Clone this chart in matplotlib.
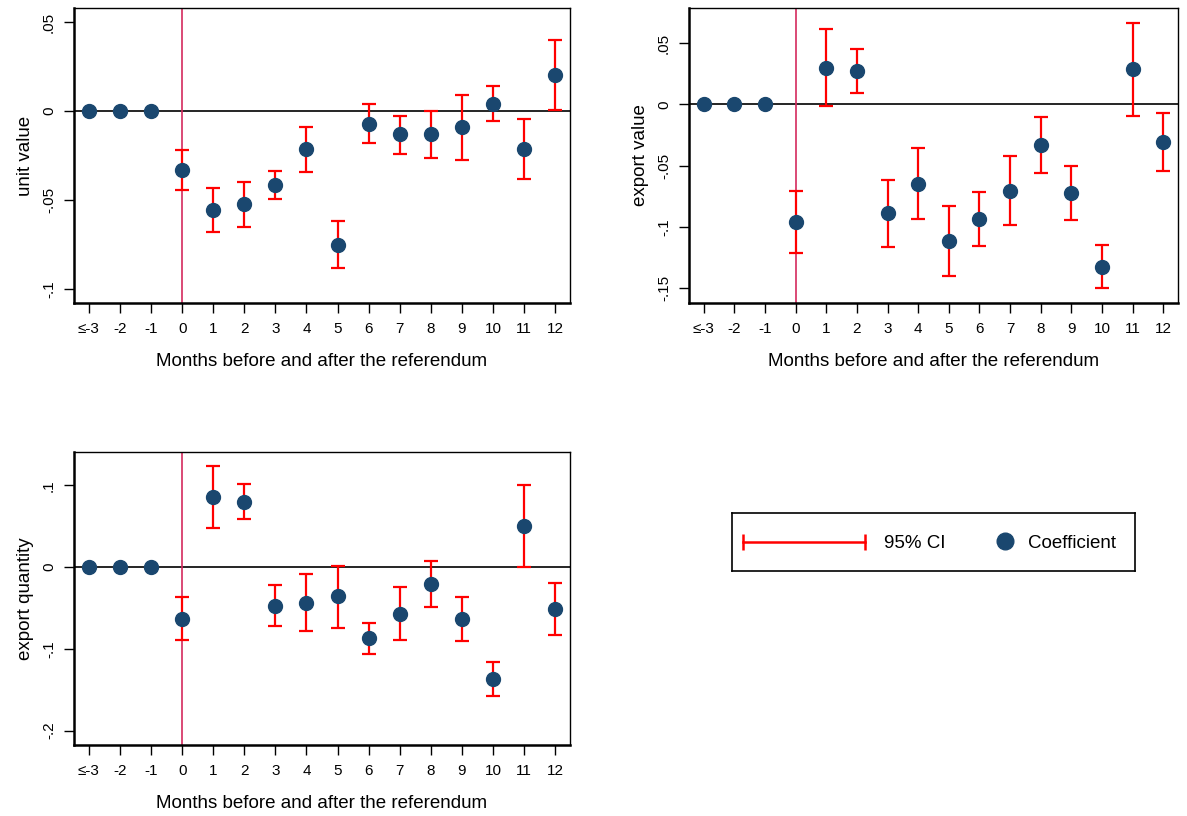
import matplotlib
matplotlib.use("Agg")
import matplotlib.pyplot as plt
import numpy as np

plt.rcParams['font.family'] = ['Liberation Sans', 'DejaVu Sans']

# ---------------- data ----------------
months = ["≤-3", "-2", "-1", "0", "1", "2", "3", "4", "5", "6", "7", "8", "9", "10", "11", "12"]

uv_coef = [0, 0, 0, -0.0333, -0.0558, -0.0526, -0.0417, -0.0216, -0.0752, -0.0073,
           -0.0132, -0.0132, -0.0092, 0.0041, -0.0214, 0.0201]
uv_lo = [np.nan, np.nan, np.nan, -0.0442, -0.0680, -0.0652, -0.0496, -0.0342, -0.0885, -0.0182,
         -0.0240, -0.0263, -0.0276, -0.0056, -0.0382, 0.0008]
uv_hi = [np.nan, np.nan, np.nan, -0.0220, -0.0436, -0.0400, -0.0340, -0.0090, -0.0618, 0.0038,
         -0.0026, 0.0000, 0.0092, 0.0141, -0.0045, 0.0400]

ev_coef = [0, 0, 0, -0.0959, 0.0297, 0.0275, -0.0888, -0.0646, -0.1112, -0.0937,
           -0.0703, -0.0332, -0.0722, -0.1322, 0.0286, -0.0305]
ev_lo = [np.nan, np.nan, np.nan, -0.1210, -0.0014, 0.0095, -0.1163, -0.0935, -0.1398, -0.1155,
         -0.0984, -0.0561, -0.0943, -0.1493, -0.0095, -0.0542]
ev_hi = [np.nan, np.nan, np.nan, -0.0706, 0.0616, 0.0455, -0.0616, -0.0354, -0.0828, -0.0717,
         -0.0420, -0.0101, -0.0499, -0.1147, 0.0668, -0.0068]

eq_coef = [0, 0, 0, -0.0635, 0.0855, 0.0798, -0.0476, -0.0435, -0.0358, -0.0871,
           -0.0574, -0.0204, -0.0639, -0.1368, 0.0497, -0.0513]
eq_lo = [np.nan, np.nan, np.nan, -0.0895, 0.0476, 0.0586, -0.0724, -0.0785, -0.0741, -0.1062,
         -0.0895, -0.0484, -0.0904, -0.1575, -0.0004, -0.0834]
eq_hi = [np.nan, np.nan, np.nan, -0.0366, 0.1237, 0.1013, -0.0224, -0.0085, 0.0016, -0.0680,
         -0.0248, 0.0073, -0.0362, -0.1160, 0.1001, -0.0191]

uv_ticks = [0.05, 0, -0.05, -0.1]
uv_ticklabels = [".05", "0", "-.05", "-.1"]
ev_ticks = [0.05, 0, -0.05, -0.1, -0.15]
ev_ticklabels = [".05", "0", "-.05", "-.1", "-.15"]
eq_ticks = [0.1, 0, -0.1, -0.2]
eq_ticklabels = [".1", "0", "-.1", "-.2"]

xlabel = "Months before and after the referendum"
legend_labels = ["95% CI", "Coefficient"]

NAVY = '#1a476f'
RED = '#ff0000'
REF = '#d42a5e'

W, H = 1187, 816
fig = plt.figure(figsize=(W / 100, H / 100), dpi=100)


def px_axes(l, t, r, b):
    return fig.add_axes([l / W, 1 - b / H, (r - l) / W, (b - t) / H])


def panel(ax, coef, lo, hi, ticks, ticklabels, ylabel, ylim):
    x = np.arange(len(months))
    coef = np.array(coef, float)
    lo = np.array(lo, float)
    hi = np.array(hi, float)
    ax.axhline(0, color='black', lw=1.2, zorder=1)
    ax.axvline(3, color=REF, lw=1.2, zorder=1)
    m = ~np.isnan(lo)
    ax.errorbar(x[m], coef[m], yerr=[coef[m] - lo[m], hi[m] - coef[m]], fmt='none',
                ecolor=RED, elinewidth=1.6, capsize=4.8, capthick=1.6, zorder=2)
    ax.plot(x, coef, 'o', color=NAVY, markersize=10, zorder=3, linestyle='none')
    ax.set_xlim(-0.48, 15.48)
    ax.set_ylim(*ylim)
    ax.set_xticks(x)
    ax.set_xticklabels(months, fontsize=11)
    ax.set_yticks(ticks)
    ax.set_yticklabels(ticklabels, fontsize=11, rotation=90, va='center')
    ax.tick_params(axis='both', direction='out', length=7, width=1.0, color='black')
    ax.tick_params(axis='x', pad=7)
    ax.tick_params(axis='y', pad=6)
    ax.set_xlabel(xlabel, fontsize=13.5, labelpad=12)
    ax.set_ylabel(ylabel, fontsize=13.5, labelpad=6)
    for s in ['top', 'right']:
        ax.spines[s].set_linewidth(1.0)
    for s in ['bottom', 'left']:
        ax.spines[s].set_linewidth(1.8)


ax1 = px_axes(74, 8, 570, 303)
panel(ax1, uv_coef, uv_lo, uv_hi, uv_ticks, uv_ticklabels, "unit value", (-0.108, 0.0579))

ax2 = px_axes(689, 8, 1178, 303)
panel(ax2, ev_coef, ev_lo, ev_hi, ev_ticks, ev_ticklabels, "export value", (-0.1619, 0.0787))

ax3 = px_axes(74, 452, 570, 745)
panel(ax3, eq_coef, eq_lo, eq_hi, eq_ticks, eq_ticklabels, "export quantity", (-0.2177, 0.1408))

# legend box
axl = px_axes(732, 513, 1135, 571)
axl.set_xlim(0, 403)
axl.set_ylim(58, 0)
axl.set_xticks([])
axl.set_yticks([])
for s in axl.spines.values():
    s.set_linewidth(1.2)
axl.plot([11, 133], [29, 29], color=RED, lw=1.8)
axl.plot([11, 133], [29, 29], linestyle='none', marker='|', color=RED, markersize=11, markeredgewidth=1.8)
axl.text(152, 30, legend_labels[0], fontsize=13.5, va='center', ha='left')
axl.plot([273], [28], 'o', color=NAVY, markersize=12)
axl.text(296, 30, legend_labels[1], fontsize=13.5, va='center', ha='left')

fig.savefig('out.png', dpi=100)
